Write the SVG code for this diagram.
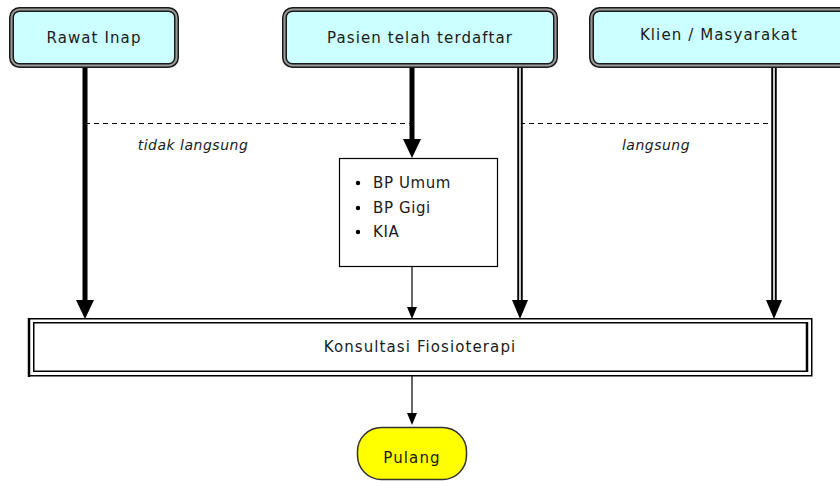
<svg xmlns="http://www.w3.org/2000/svg" width="840" height="482" viewBox="0 0 840 482">
<style>
.t{font-family:"DejaVu Sans","Liberation Sans",sans-serif;font-size:15px;letter-spacing:1.1px;fill:#1a1a1a;text-anchor:middle}
.i{font-family:"DejaVu Sans","Liberation Sans",sans-serif;font-size:14px;letter-spacing:0.5px;font-style:italic;fill:#1a1a1a;text-anchor:middle}
.bo{fill:#ccffff;stroke:#1a1a1a;stroke-width:5}
.bi{fill:none;stroke:#9a9a9a;stroke-width:2}
.thick{stroke:#000;stroke-width:5;fill:none}
.dbl{stroke:#000;stroke-width:5.5;fill:none}
.dblw{stroke:#fff;stroke-width:1.6;fill:none}
.thin{stroke:#000;stroke-width:1.2;fill:none}
.dash{stroke:#000;stroke-width:1.2;stroke-dasharray:5,4;fill:none}
.ah{fill:#000}
</style>
<rect width="840" height="482" fill="#fff"/>
<g id="connectors">
<line class="dash" x1="85" y1="123.5" x2="410" y2="123.5"/>
<line class="dash" x1="520" y1="123.5" x2="774" y2="123.5"/>
<line class="thick" x1="85" y1="67" x2="85" y2="302"/>
<polygon class="ah" points="76,300 94,300 85,319"/>
<line class="thick" x1="412" y1="67" x2="412" y2="142"/>
<polygon class="ah" points="403,139 421,139 412,158"/>
<line class="dbl" x1="520" y1="67" x2="520" y2="302"/>
<line class="dblw" x1="520" y1="67" x2="520" y2="302"/>
<polygon class="ah" points="512,300 528,300 520,319"/>
<line class="dbl" x1="774" y1="67" x2="774" y2="302"/>
<line class="dblw" x1="774" y1="67" x2="774" y2="302"/>
<polygon class="ah" points="766,300 782,300 774,319"/>
<line class="thin" x1="412" y1="267" x2="412" y2="309"/>
<polygon class="ah" points="407,307 417,307 412,319"/>
<line class="thin" x1="412" y1="376" x2="412" y2="415"/>
<polygon class="ah" points="407,413 417,413 412,425"/>
</g>
<g id="rawat-inap">
<rect class="bo" x="11.5" y="9.5" width="165" height="56" rx="8"/>
<rect class="bi" x="11.5" y="9.5" width="165" height="56" rx="8"/>
<text class="t" x="94" y="43">Rawat Inap</text>
</g>
<g id="pasien">
<rect class="bo" x="284.5" y="9.5" width="271" height="56" rx="8"/>
<rect class="bi" x="284.5" y="9.5" width="271" height="56" rx="8"/>
<text class="t" x="420" y="43">Pasien telah terdaftar</text>
</g>
<g id="klien">
<rect class="bo" x="591.5" y="9.5" width="260" height="56" rx="8"/>
<rect class="bi" x="591.5" y="9.5" width="260" height="56" rx="8"/>
<text class="t" x="719" y="40">Klien / Masyarakat</text>
</g>
<g id="labels">
<text class="i" x="193" y="150">tidak langsung</text>
<text class="i" x="656" y="150">langsung</text>
</g>
<g id="bp">
<rect x="339.5" y="158.5" width="158" height="108" fill="#fff" stroke="#000" stroke-width="1.2"/>
<circle cx="358" cy="183" r="2.2" fill="#000"/>
<circle cx="358" cy="208" r="2.2" fill="#000"/>
<circle cx="358" cy="232" r="2.2" fill="#000"/>
<text class="t" x="373" y="188" style="text-anchor:start;letter-spacing:0.6px">BP Umum</text>
<text class="t" x="373" y="213" style="text-anchor:start;letter-spacing:0.6px">BP Gigi</text>
<text class="t" x="373" y="237" style="text-anchor:start;letter-spacing:0.6px">KIA</text>
</g>
<g id="konsultasi">
<rect x="28.75" y="318.75" width="783" height="57" fill="#fff" stroke="#000" stroke-width="1.5"/>
<rect x="33.75" y="322.75" width="773.5" height="48.5" fill="none" stroke="#000" stroke-width="1.5"/>
<line x1="29" y1="318" x2="29" y2="377" stroke="#000" stroke-width="2.5"/>
<line x1="807" y1="322" x2="807" y2="372" stroke="#000" stroke-width="2.5"/>
<text class="t" x="420" y="352">Konsultasi Fiosioterapi</text>
</g>
<g id="pulang">
<rect x="357.5" y="427.5" width="109" height="52" rx="24" fill="#ffff00" stroke="#333" stroke-width="1.5"/>
<text class="t" x="412" y="463">Pulang</text>
</g>
</svg>
